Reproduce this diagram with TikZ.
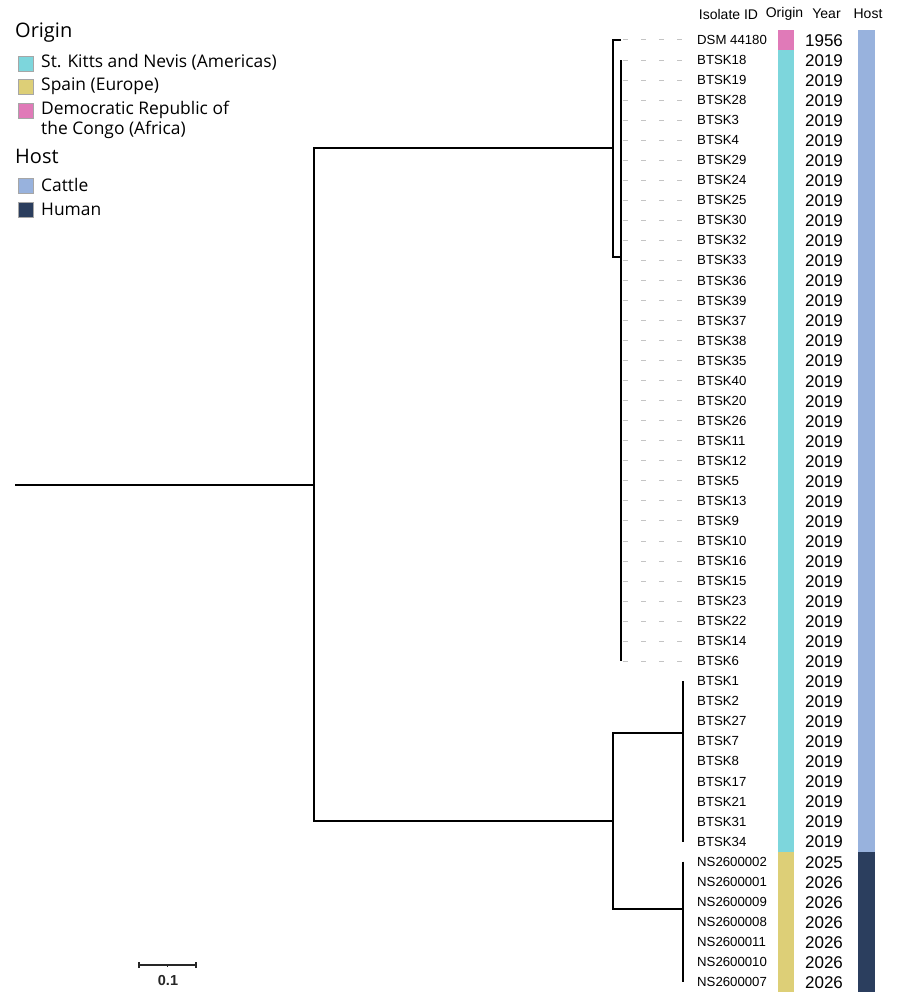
\documentclass[tikz,border=0pt]{standalone}
\usepackage{fontspec}
\setmainfont{Liberation Sans}
\newfontfamily\legfont{Open Sans}
\definecolor{cyanc}{HTML}{7DD6DC}
\definecolor{yellc}{HTML}{DDCF77}
\definecolor{pinkc}{HTML}{E07AB8}
\definecolor{cattc}{HTML}{98B2DD}
\definecolor{humc}{HTML}{2B3E5E}
\definecolor{dashc}{HTML}{C4C4C4}
\tikzset{
  branch/.style={line width=2.6pt, black},
  leaf/.style={anchor=west, inner sep=0pt, font=\fontsize{13.2}{13.2}\selectfont},
  yearlab/.style={anchor=center, inner sep=0pt, font=\fontsize{17}{17}\selectfont},
  header/.style={anchor=center, inner sep=0pt, font=\fontsize{14}{14}\selectfont},
  leader/.style={dashc, line width=1pt, dash pattern=on 5pt off 13pt},
  legsq/.style={draw=gray!70, line width=0.6pt, minimum size=15pt, inner sep=0pt},
  legtext/.style={anchor=west, inner sep=0pt, font=\legfont\fontsize{17.4}{20}\selectfont, align=left},
  legtitle/.style={anchor=west, inner sep=0pt, font=\legfont\fontsize{20}{20}\selectfont},
}
\begin{document}
\begin{tikzpicture}[x=1pt,y=-1pt]
\useasboundingbox (0,0) rectangle (900,998);
% headers
\node[header] (hid) at (728.5,14) {Isolate ID};
\node[header] (hor) at (784.5,14) {Origin};
\node[header] (hyr) at (826.5,14) {Year};
\node[header] (hho) at (868,14) {Host};
% colour columns
\fill[pinkc] (778,30) rectangle (794,50);
\fill[cyanc] (778,50) rectangle (794,851.6);
\fill[yellc] (778,851.6) rectangle (794,992);
\fill[cattc] (858,30) rectangle (875,851.6);
\fill[humc] (858,851.6) rectangle (875,992);
% leaves
\foreach \nm/\yr [count=\i from 0] in {DSM 44180/1956, BTSK18/2019, BTSK19/2019, BTSK28/2019, BTSK3/2019, BTSK4/2019, BTSK29/2019, BTSK24/2019, BTSK25/2019, BTSK30/2019, BTSK32/2019, BTSK33/2019, BTSK36/2019, BTSK39/2019, BTSK37/2019, BTSK38/2019, BTSK35/2019, BTSK40/2019, BTSK20/2019, BTSK26/2019, BTSK11/2019, BTSK12/2019, BTSK5/2019, BTSK13/2019, BTSK9/2019, BTSK10/2019, BTSK16/2019, BTSK15/2019, BTSK23/2019, BTSK22/2019, BTSK14/2019, BTSK6/2019, BTSK1/2019, BTSK2/2019, BTSK27/2019, BTSK7/2019, BTSK8/2019, BTSK17/2019, BTSK21/2019, BTSK31/2019, BTSK34/2019, NS2600002/2025, NS2600001/2026, NS2600009/2026, NS2600008/2026, NS2600011/2026, NS2600010/2026, NS2600007/2026} {
  \pgfmathsetmacro\yy{40+20.04*\i}
  \node[leaf] (L\i) at (697,\yy) {\nm};
  \node[yearlab] (Y\i) at (824,\yy+0.5) {\yr};
  \coordinate (P\i) at (621,\yy);
  \coordinate (Q\i) at (683,\yy);
}
\foreach \i in {0,...,31} {
  \draw[leader] ([xshift=2pt]P\i) -- ([xshift=-15pt]L\i.west);
}
% tree
\coordinate (root) at (15,485);
\coordinate (n1) at (314,485);
\coordinate (top) at (613,148);
\coordinate (bot) at (613,821);
\coordinate (btsk) at (621,257);
\coordinate (cl1) at (683,733);
\coordinate (cl2) at (683,909);
\draw[branch] (root) -- (n1);
\draw[branch] (top) -| (n1);
\draw[branch] (bot) -| (n1);
\draw[branch] (P0) -| (top);
\draw[branch] (btsk) -| (top);
\draw[branch] (P1) -- (P31);
\draw[branch] (cl1) -| (bot);
\draw[branch] (cl2) -| (bot);
\draw[branch] (Q32) -- (Q40);
\draw[branch] (Q41) -- (Q47);
% legend
\node[legtitle] (lo) at (15,33) {Origin};
\node[legsq, fill=cyanc] (s1) at (25.5,63.5) {};
\node[legtext] (t1) at (41,62.5) {St. Kitts and Nevis (Americas)};
\node[legsq, fill=yellc] (s2) at (25.5,86.5) {};
\node[legtext] (t2) at (41,86) {Spain (Europe)};
\node[legsq, fill=pinkc] (s3) at (25.5,110.5) {};
\node[legtext] (t3) at (41,120) {Democratic Republic of\\the Congo (Africa)};
\node[legtitle] (lh) at (15,156) {Host};
\node[legsq, fill=cattc] (s4) at (25.5,185.5) {};
\node[legtext] (t4) at (41,185) {Cattle};
\node[legsq, fill=humc] (s5) at (25.5,209.5) {};
\node[legtext] (t5) at (41,209) {Human};
% scale bar
\coordinate (sa) at (139,965);
\coordinate (sb) at (196,965);
\draw[gray!30!black, line width=1.4pt] (sa) -- (sb);
\draw[gray!30!black, line width=1.4pt] ([yshift=-3pt]sa) -- ([yshift=3.5pt]sa);
\draw[gray!30!black, line width=1.4pt] ([yshift=-3pt]sb) -- ([yshift=3.5pt]sb);
\draw[gray!30!black, line width=1pt] (167.5,965) -- (167.5,967);
\node[inner sep=0pt, font=\bfseries\fontsize{14.5}{14.5}\selectfont, text=gray!30!black] (sl) at (168,980) {0.1};
\end{tikzpicture}
\end{document}
